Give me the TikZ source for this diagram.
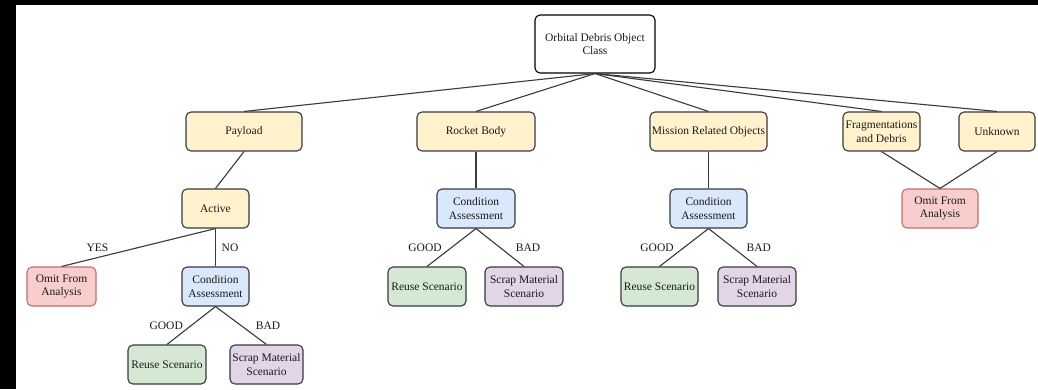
\documentclass[tikz,border=0pt]{standalone}
\usepackage{fontspec}
\setmainfont{Liberation Serif}
\definecolor{yel}{HTML}{FFF2CC}
\definecolor{blu}{HTML}{DAE8FC}
\definecolor{pnk}{HTML}{F8CECC}
\definecolor{grn}{HTML}{D5E8D4}
\definecolor{pur}{HTML}{E1D5E7}
\definecolor{edg}{HTML}{36393D}
\definecolor{redg}{HTML}{C0706E}
\definecolor{txt}{HTML}{1A1A1A}
\definecolor{ln}{HTML}{3A3A3A}
\tikzset{
  box/.style={draw=edg, line width=1.1pt, rounded corners=5pt, align=center,
    inner sep=0pt, text=txt, font=\fontsize{11.5}{13.5}\selectfont},
  sz/.style 2 args={minimum width=#1pt, minimum height=#2pt},
  ybox/.style={box, fill=yel},
  bbox/.style={box, fill=blu},
  rbox/.style={box, fill=pnk, draw=redg},
  gbox/.style={box, fill=grn},
  pbox/.style={box, fill=pur},
  conn/.style={draw=ln, line width=1.1pt},
  lbl/.style={inner sep=0pt, text=txt, font=\fontsize{11.5}{13.5}\selectfont},
}
\begin{document}
\begin{tikzpicture}[x=1pt,y=-1pt]
\useasboundingbox (0,0) rectangle (1038,389);
% black frame of the screenshot
\fill[black] (0,0) rectangle (1038,389);
\fill[white] (16,5) rectangle (1038,389);

% nodes
\node[box, fill=white, draw=black, sz={120}{58}] (root) at (595,44) {Orbital Debris Object\\Class};

\node[ybox, sz={116}{39}] (pay) at (244,131.5) {Payload};
\node[ybox, sz={118}{39}] (rb) at (476,131.5) {Rocket Body};
\node[ybox, sz={117}{39}] (mro) at (708.5,131.5) {Mission Related Objects};
\node[ybox, sz={77}{39}] (frag) at (881.5,131.5) {Fragmentations\\and Debris};
\node[ybox, sz={76}{39}] (unk) at (997,131.5) {Unknown};

\node[ybox, sz={67}{39}] (act) at (215.5,208.5) {Active};
\node[rbox, sz={69}{39}] (om1) at (61.5,286.5) {Omit From\\Analysis};
\node[bbox, sz={67}{39}] (ca1) at (215.5,286.5) {Condition\\Assessment};
\node[gbox, sz={78}{39}] (re1) at (167,364.5) {Reuse Scenario};
\node[pbox, sz={73}{39}] (sc1) at (266.5,364.5) {Scrap Material\\Scenario};

\node[bbox, sz={78}{39}] (ca2) at (476,208.5) {Condition\\Assessment};
\node[gbox, sz={78}{39}] (re2) at (427,286.5) {Reuse Scenario};
\node[pbox, sz={78}{39}] (sc2) at (524,286.5) {Scrap Material\\Scenario};

\node[bbox, sz={77}{39}] (ca3) at (708.5,208.5) {Condition\\Assessment};
\node[gbox, sz={77}{39}] (re3) at (659.5,286.5) {Reuse Scenario};
\node[pbox, sz={78}{39}] (sc3) at (757,286.5) {Scrap Material\\Scenario};

\node[rbox, sz={76}{39}] (om2) at (940,208.5) {Omit From\\Analysis};

% connectors
\draw[conn] (root.south) -- (pay.north);
\draw[conn] (root.south) -- (rb.north);
\draw[conn] (root.south) -- (mro.north);
\draw[conn] (root.south) -- (frag.north);
\draw[conn] (root.south) -- (unk.north);

\draw[conn] (pay.south) -- (act.north);
\draw[conn] (act.south) -- (om1.north) node[lbl, midway, xshift=-41pt] {YES};
\draw[conn] (act.south) -- (ca1.north) node[lbl, midway, xshift=14.5pt] {NO};
\draw[conn] (ca1.south) -- (re1.north) node[lbl, midway, xshift=-25pt] {GOOD};
\draw[conn] (ca1.south) -- (sc1.north) node[lbl, midway, xshift=27pt] {BAD};

\draw[conn] (rb.south) -- (ca2.north);
\draw[conn] (ca2.south) -- (re2.north) node[lbl, midway, xshift=-26.5pt] {GOOD};
\draw[conn] (ca2.south) -- (sc2.north) node[lbl, midway, xshift=28pt] {BAD};

\draw[conn] (mro.south) -- (ca3.north);
\draw[conn] (ca3.south) -- (re3.north) node[lbl, midway, xshift=-27pt] {GOOD};
\draw[conn] (ca3.south) -- (sc3.north) node[lbl, midway, xshift=26pt] {BAD};

\draw[conn] (frag.south) -- (om2.north);
\draw[conn] (unk.south) -- (om2.north);
\end{tikzpicture}
\end{document}
